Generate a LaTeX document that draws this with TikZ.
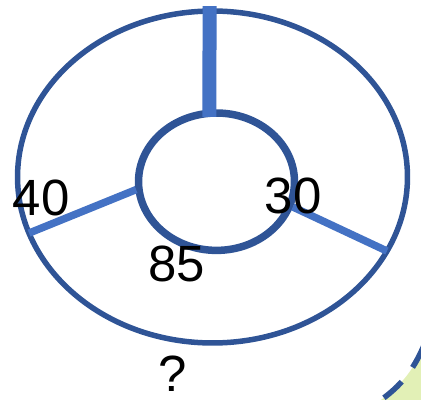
\documentclass[tikz,border=0pt]{standalone}
\usepackage{fontspec}
\setmainfont{Liberation Sans}
\definecolor{ringblue}{RGB}{47,84,150}
\definecolor{spokeblue}{RGB}{68,114,196}
\definecolor{limegreen}{RGB}{226,240,182}
\usetikzlibrary{shapes.geometric}

\begin{document}
\begin{tikzpicture}[x=0.02cm, y=0.02cm,
    ring/.style={draw=ringblue, ellipse, inner sep=0pt, outer sep=0pt},
    spoke/.style={draw=spokeblue, line width=0.15cm},
    numlabel/.style={inner sep=0pt, font=\fontsize{29}{30}\selectfont}]
  \useasboundingbox (0,0) rectangle (421,399);

  %% Corner shape, cut by the page edge
  \begin{scope}
    \clip (0,0) rectangle (421,399);
    \fill[limegreen] (372,-7) .. controls (398.5,10) and (412.5,26) .. (425,56) -- (440,56) -- (440,-7) -- cycle;
    \draw[ringblue, line width=0.11cm, dash pattern=on 0.48cm off 0.36cm, dash phase=0.55cm] (372,-7) .. controls (398.5,10) and (412.5,26) .. (425,56);
  \end{scope}

  %% Rings
  \node[ring, line width=0.11cm, minimum width=7.8cm, minimum height=6.64cm] (outer) at (212.5,222) {};
  \node[ring, line width=0.15cm, minimum width=3.12cm, minimum height=2.748cm] (inner) at (216.5,217.3) {};

  %% Spokes
  \draw[spoke, line width=0.28cm, shorten <=-0.07cm, shorten >=-0.1cm] (inner.96.6) -- (outer.91.2);
  \draw[spoke, shorten <=0.06cm] (inner.185.9) -- (outer.197.1);
  \draw[spoke, shorten <=0.07cm] (inner.342) -- (outer.337.4);

  %% Labels
  \node[numlabel] (forty) at (41.3,201.5) {40};
  \node[numlabel] (thirty) at (293.3,203) {30};
  \node[numlabel] (eightyfive) at (176.5,135) {85};
  \node[numlabel] (unknown) at (173,25) {?};
\end{tikzpicture}
\end{document}
